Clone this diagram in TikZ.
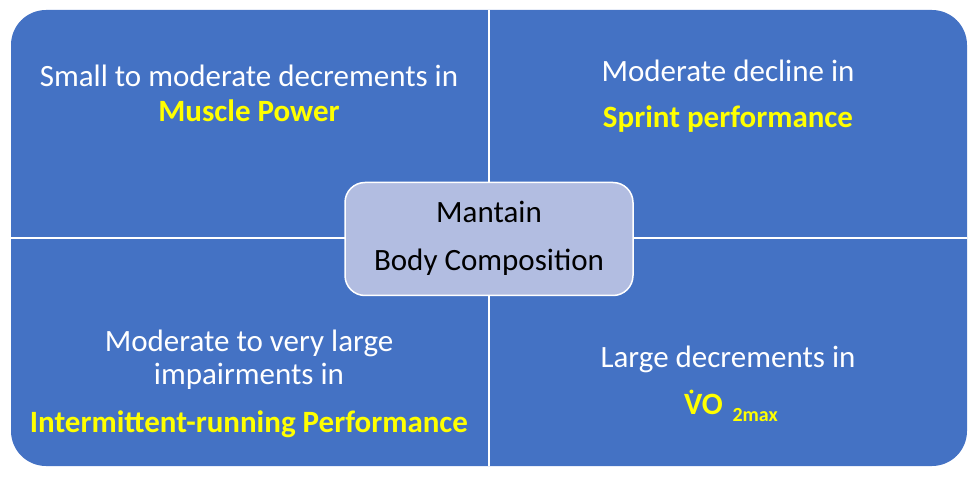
\documentclass[tikz,border=0pt]{standalone}
\usepackage{fontspec}
\setmainfont{Carlito}
\definecolor{quadblue}{RGB}{68,114,196}
\definecolor{centerfill}{RGB}{178,189,225}
\definecolor{hiyellow}{RGB}{255,255,0}
\tikzset{
  frame/.style={fill=quadblue, rounded corners=35pt, minimum width=956pt, minimum height=456pt, inner sep=0pt},
  divider/.style={white, line width=2pt},
  plain/.style={anchor=base, text=white, font=\fontsize{31}{37}\selectfont, inner sep=0pt},
  key/.style={anchor=base, text=hiyellow, font=\fontsize{31}{37}\selectfont\bfseries, inner sep=0pt},
  centerbox/.style={draw=white, line width=1.5pt, fill=centerfill, rounded corners=20pt, minimum width=288pt, minimum height=113pt}
}
\begin{document}
\begin{tikzpicture}[x=1pt,y=-1pt]
\useasboundingbox (0,0) rectangle (980,478);
\node[frame] (frame) at (489,238) {};
\draw[divider] (frame.north) -- (frame.south);
\draw[divider] (frame.west) -- (frame.east);

% top left
\node[plain] (tl1) at (249,87) {Small to moderate decrements in};
\node[key] (tl2) at (249,122) {Muscle Power};
% top right
\node[plain] (tr1) at (728,82) {Moderate decline in};
\node[key] (tr2) at (728,128) {Sprint performance};
% bottom left
\node[plain] (bl1) at (249,352) {Moderate to very large};
\node[plain] (bl2) at (249,384) {impairments in};
\node[key] (bl3) at (249,432) {Intermittent-running Performance};
% bottom right
\node[plain] (br1) at (728,367) {Large decrements in};
\node[key] (br2) at (731,414) {VO\,{\fontsize{20}{22}\selectfont\raisebox{-7pt}{ 2max}}};
\fill[hiyellow] ([xshift=7.5pt,yshift=22.5pt]br2.base west) circle (2pt); % dot of V

% centre
\node[centerbox] (centre) at (489,239) {};
\node[plain, text=black] (c1) at (489,223) {Mantain};
\node[plain, text=black] (c2) at (489,271) {Body Composition};
\end{tikzpicture}
\end{document}
